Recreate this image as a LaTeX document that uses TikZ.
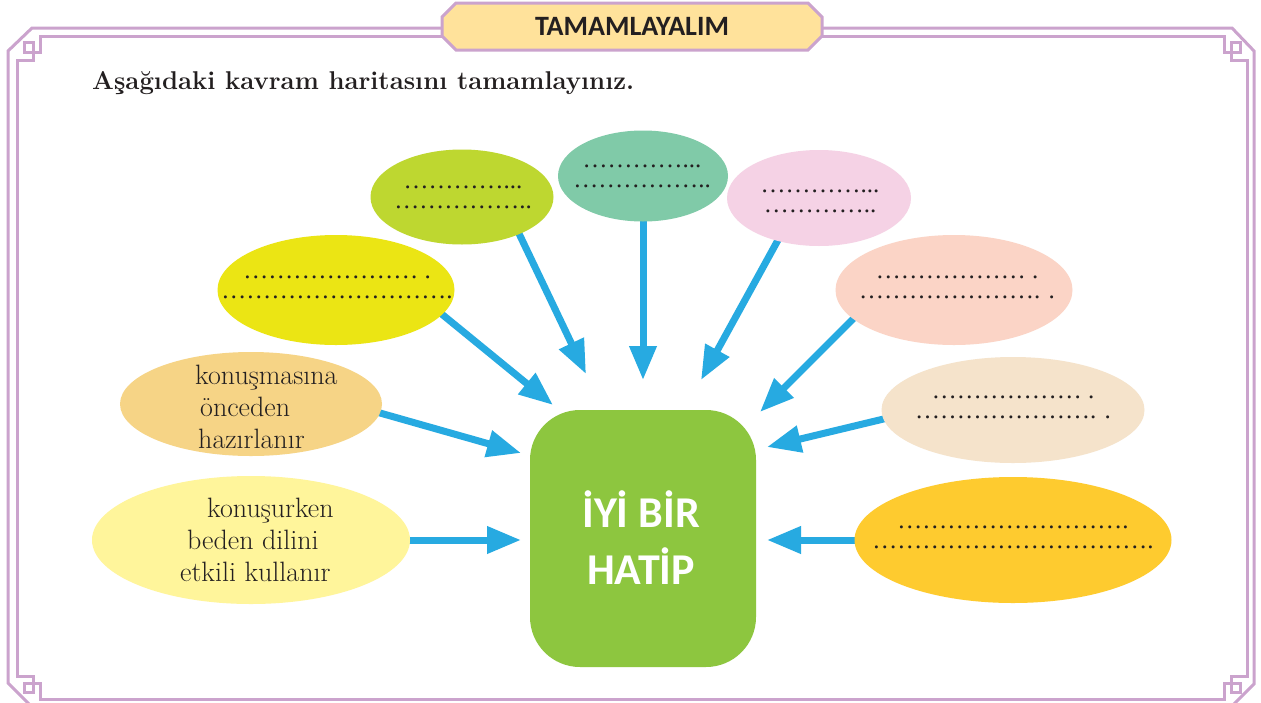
\documentclass[tikz,border=0pt]{standalone}
\usepackage{fontspec}
\newfontfamily\carlito{Carlito}
\newfontfamily\libser{Liberation Serif}
\usetikzlibrary{arrows.meta,shapes.geometric,shapes.misc,calc}
\pgfdeclarelayer{bg}
\pgfsetlayers{bg,main}
\ExplSyntaxOn
\NewDocumentCommand\dotsrep{m}{\prg_replicate:nn{#1}{…}}
\ExplSyntaxOff
\definecolor{frm}{HTML}{CBA3CD}
\definecolor{titlefill}{HTML}{FFE29B}
\definecolor{ink}{HTML}{231F20}
\definecolor{arrowblue}{HTML}{27AAE1}
\definecolor{boxgreen}{HTML}{8DC63F}
\definecolor{clime}{HTML}{BED730}
\definecolor{cteal}{HTML}{80CAA8}
\definecolor{cpink}{HTML}{F5D2E5}
\definecolor{cyellow}{HTML}{EBE514}
\definecolor{csalmon}{HTML}{FBD4C6}
\definecolor{corange}{HTML}{F6D486}
\definecolor{cbeige}{HTML}{F5E3CB}
\definecolor{clight}{HTML}{FFF59B}
\definecolor{cgold}{HTML}{FECB2F}
\begin{document}
\begin{tikzpicture}[x=1pt,y=-1pt,
  bub/.style={ellipse,inner sep=0pt,draw=none},
  dotstxt/.style={font=\libser\fontsize{25}{20}\selectfont,align=center,inner sep=0pt,text=ink},
  lbl/.style={font=\fontsize{28}{32}\selectfont,align=left,inner sep=0pt,anchor=north west,text=ink},
  arr/.style={line width=7pt,draw=arrowblue,-{Triangle[length=34pt,width=26pt]},shorten <=-10pt},
  frameline/.style={draw=frm,line width=3pt,line join=miter}]
\useasboundingbox (0,0) rectangle (1261,702);
\clip (0,0) rectangle (1261,702);
\begin{pgfonlayer}{bg}
\fill[white] (0,0) rectangle (1261,702);
\end{pgfonlayer}
% frame
\draw[frameline] (32,28) -- (1232,28) -- (1254,51) -- (1254,684) -- (1231,707) -- (32,707) -- (8,683) -- (8,51) -- cycle;
\draw[frameline] (40,36) -- (1224,36) -- (1224,52) -- (1240,52) -- (1240,42) -- (1231,42) -- (1231,60) -- (1247,60)
  -- (1247,676) -- (1231,676) -- (1231,692) -- (1240,692) -- (1240,683) -- (1224,683) -- (1224,699)
  -- (40,699) -- (40,683) -- (24,683) -- (24,692) -- (33,692) -- (33,676) -- (17,676)
  -- (17,60) -- (33,60) -- (33,42) -- (24,42) -- (24,52) -- (40,52) -- cycle;
% title
\node[chamfered rectangle,chamfered rectangle xsep=7pt,chamfered rectangle ysep=7pt,draw=frm,line width=3pt,fill=titlefill,
  minimum width=380pt,minimum height=47pt,inner sep=0pt,text=ink,font=\carlito\bfseries\fontsize{28}{32}\selectfont] (title) at (632,26.5) {TAMAMLAYALIM};
% instruction
\node[anchor=base west,inner sep=0pt,text=ink,font=\bfseries\fontsize{25.7}{30}\selectfont] (instr) at (92,89) {Aşağıdaki kavram haritasını tamamlayınız.};
% bubbles
\node[bub,fill=clime,minimum width=183pt,minimum height=95pt] (e1) at (462,197) {};
\node[bub,fill=cteal,minimum width=170pt,minimum height=91pt] (e2) at (643,176) {};
\node[bub,fill=cpink,minimum width=184pt,minimum height=96pt] (e3) at (819,198) {};
\node[bub,fill=cyellow,minimum width=237pt,minimum height=110pt] (e4) at (336,290) {};
\node[bub,fill=csalmon,minimum width=237pt,minimum height=110pt] (e5) at (954,290) {};
\node[bub,fill=corange,minimum width=262pt,minimum height=104pt] (e6) at (251,404) {};
\node[bub,fill=cbeige,minimum width=263pt,minimum height=106pt] (e7) at (1013,410) {};
\node[bub,fill=clight,minimum width=318pt,minimum height=128pt] (e8) at (251,540) {};
\node[bub,fill=cgold,minimum width=317pt,minimum height=126pt] (e9) at (1013,540) {};
% bubble texts
\node[dotstxt] (d1) at (463,197) {\dotsrep{4}...\\\dotsrep{5}..};
\node[dotstxt] (d2) at (642,176) {\dotsrep{4}...\\\dotsrep{5}..};
\node[dotstxt] (d3) at (820,201) {\dotsrep{4}...\\\dotsrep{4}..};
\node[dotstxt] (d4) at (337,287) {\dotsrep{7} .\\\dotsrep{9}.};
\node[dotstxt] (d5) at (957,287) {\dotsrep{6} .\\\dotsrep{7}. .};
\node[dotstxt] (d7) at (1013,407) {\dotsrep{6} .\\\dotsrep{7}. .};
\node[dotstxt] (d9) at (1013,537) {\dotsrep{9}.\\\dotsrep{11}.};
\node[lbl] (t6) at (195,365) {konuşmasına\\\hspace*{5pt}önceden\\\hspace*{3pt}hazırlanır};
\node[lbl] (t8) at (180,498) {\hspace*{27pt}konuşurken\\\hspace*{7pt}beden dilini\\etkili kullanır};
% hub
\node[fill=boxgreen,rounded corners=50pt,minimum width=226pt,minimum height=257pt,inner sep=0pt] (hub) at (643,538.5) {};
\node[align=center,inner sep=0pt,text=white,font=\carlito\bfseries\fontsize{44}{57}\selectfont] (hubtxt) at (641,538) {İYİ BİR\\HATİP};
% arrow tips
\coordinate (a1) at (586,374);
\coordinate (a2) at (643,380);
\coordinate (a3) at (701,380);
\coordinate (a4) at (553,405);
\coordinate (a5) at (760,412);
\coordinate (a6) at (521,453);
\coordinate (a7) at (767,447);
\coordinate (a8) at (521,540);
\coordinate (a9) at (767,540);
\begin{pgfonlayer}{bg}
\draw[arr] (e1.-33) -- (a1);
\draw[arr] (e2.south) -- (a2);
\draw[arr] (e3.-134) -- (a3);
\draw[arr] (e4.-13) -- (a4);
\draw[arr] (e5.-164) -- (a5);
\draw[arr] (e6.-4) -- (a6);
\draw[arr] (e7.-176) -- (a7);
\draw[arr] (e8.east) -- (a8);
\draw[arr] (e9.west) -- (a9);
\end{pgfonlayer}
\end{tikzpicture}
\end{document}
